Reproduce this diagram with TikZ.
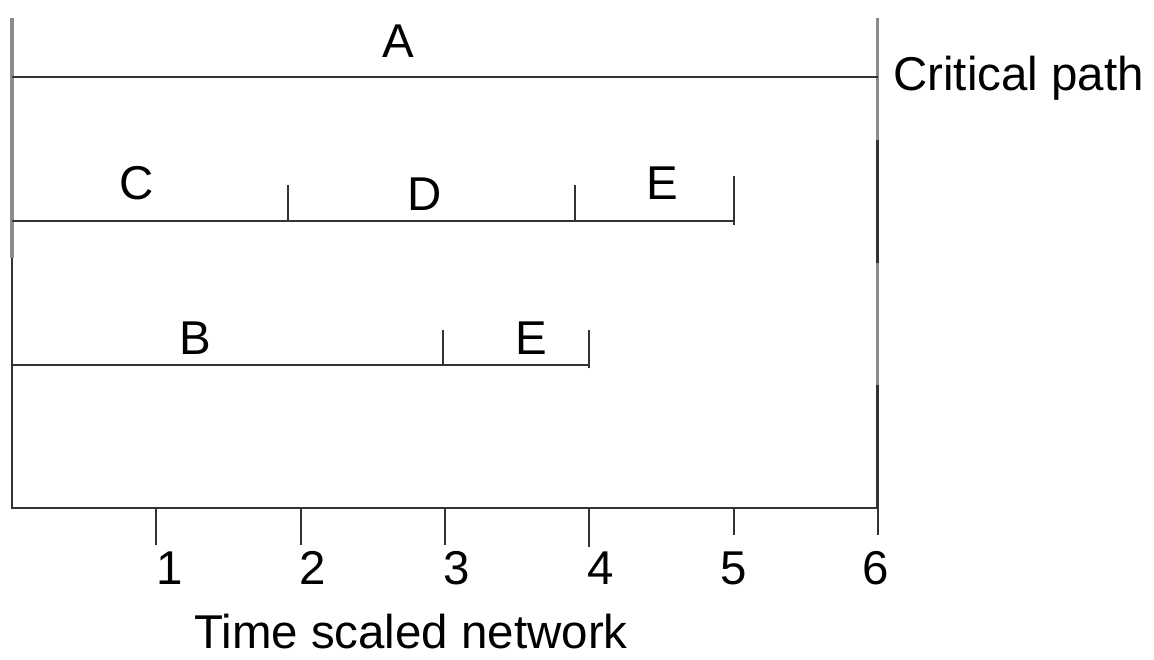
\documentclass[tikz,border=0pt]{standalone}
\usepackage{fontspec}
\setmainfont{Liberation Sans}
\tikzset{
every picture/.style={
line width=1.6pt
}}

\begin{document}
\begin{tikzpicture}[x=2.886cm, y=1cm,
    act/.style={draw=black!80},
    tick/.style={draw=black!80, line width=1.1pt},
    frame/.style={draw=black!45, line width=1.8pt},
    lbl/.style={font=\fontsize{27}{32}\selectfont, inner sep=0pt, anchor=base},
    ]
  \useasboundingbox (-0.0832,-3.02) rectangle (7.9137,10.16);
  % 
  % frame and time axis: 
  \coordinate (top0) at (0,9.8);
  \coordinate (top6) at (6,9.8);
  \coordinate (o) at (0,0);
  \coordinate (x6) at (6,0);
  \draw[frame] (top0) -- (0,5);
  \draw[act] (0,5) -- (o) -- (x6);
  \draw[frame] (top6) -- (6,7.36);
  \draw[act] (6,7.36) -- (6,4.9);
  \draw[frame] (6,4.9) -- (6,2.46);
  \draw[act] (6,2.46) -- (x6);
  \foreach \t/\len/\dx in {1/0.74/0.09, 2/0.74/0.083, 3/0.74/0.083, 4/0.78/0.076, 5/0.54/0, 6/0.54/-0.014} {
    \draw[tick] (\t,0) -- (\t,-\len);
    \node[lbl] (num\t) at (\t+\dx,-1.52) {\t};
  }
  \node[lbl] (title) at (2.765,-2.8) {Time scaled network};
  % 
  % activity A (critical path): 
  \coordinate (a0) at (0,8.62);
  \coordinate (a6) at (6,8.62);
  \draw[act] (a0) -- (a6);
  \node[lbl] (labA) at (2.675,9.02) {A};
  \node[lbl, anchor=base west] (crit) at (6.098,8.36) {Critical path};
  % 
  % C - D - E: 
  \coordinate (c0) at (0,5.74);
  \coordinate (c1) at (1.913,5.74);
  \coordinate (c2) at (3.902,5.74);
  \coordinate (c3) at (5,5.74);
  \draw[act] (c0) -- (c3);
  \draw[tick] (c1) -- ++(0,0.72);
  \draw[tick] (c2) -- ++(0,0.72);
  \draw[tick] ([yshift=-0.08cm]c3) -- ++(0,0.98);
  \node[lbl] (labC) at (0.866,6.18) {C};
  \node[lbl] (labD) at (2.86,5.96) {D};
  \node[lbl] (labE) at (4.504,6.18) {E};
  % 
  % B - E: 
  \coordinate (b0) at (0,2.86);
  \coordinate (b1) at (2.987,2.86);
  \coordinate (b2) at (4,2.86);
  \draw[act] (b0) -- (b2);
  \draw[tick] (b1) -- ++(0,0.7);
  \draw[tick] ([yshift=-0.06cm]b2) -- ++(0,0.76);
  \node[lbl] (labB) at (1.268,3.08) {B};
  \node[lbl] (labEb) at (3.597,3.08) {E};
\end{tikzpicture}
\end{document}
